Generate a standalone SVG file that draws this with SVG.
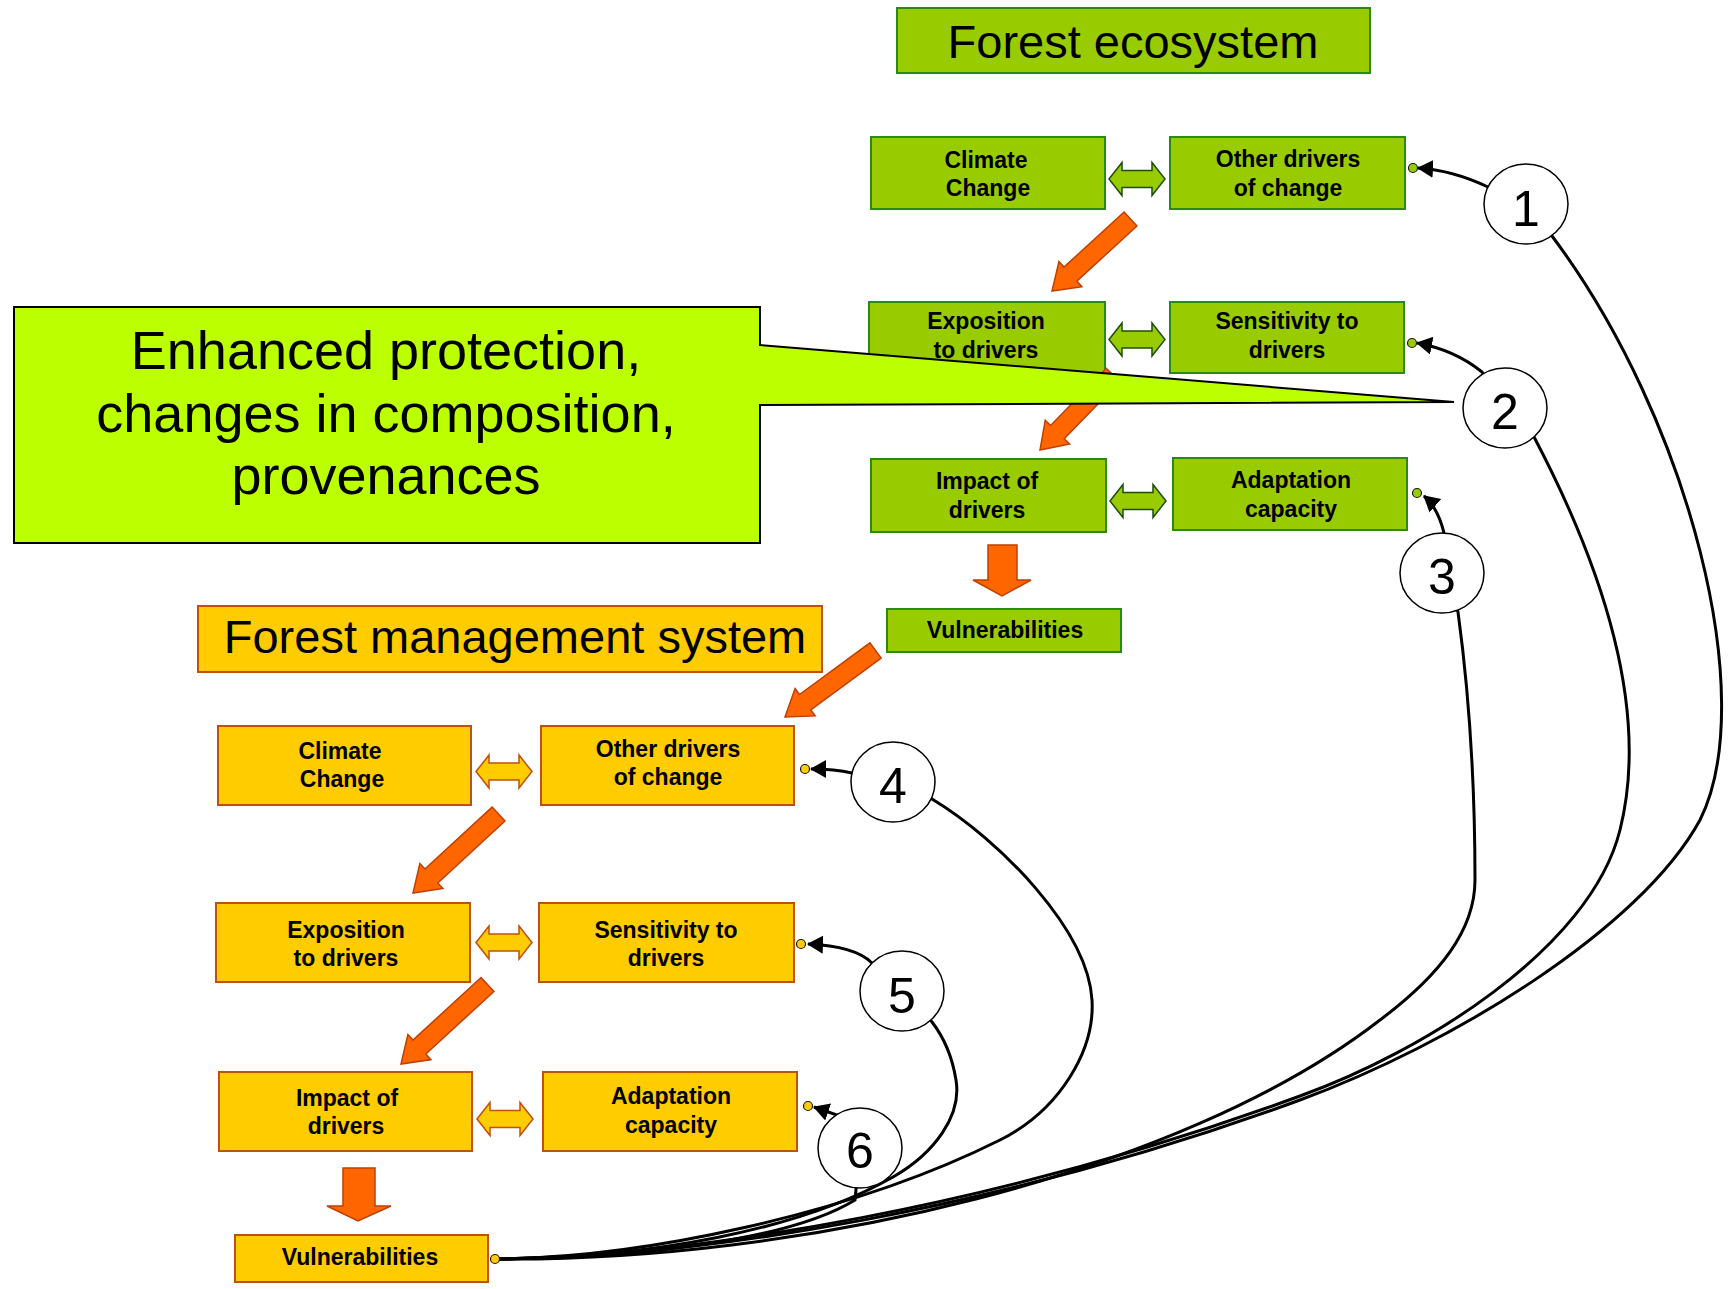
<svg xmlns="http://www.w3.org/2000/svg" xmlns:xlink="http://www.w3.org/1999/xlink" width="1733" height="1289" viewBox="0 0 1733 1289">
<style>
.gbox{fill:#99CC00;stroke:#2A8A14;stroke-width:2}
.obox{fill:#FFCC00;stroke:#C0500A;stroke-width:2}
.lbl{font-family:"Liberation Sans",Arial,sans-serif;font-weight:bold;font-size:23px;text-anchor:middle;fill:#000}
.title{font-family:"Liberation Sans",Arial,sans-serif;font-size:47px;text-anchor:middle;fill:#000}
.call{font-family:"Liberation Sans",Arial,sans-serif;font-size:54px;text-anchor:middle;fill:#000}
.num{font-family:"Liberation Sans",Arial,sans-serif;font-size:50px;text-anchor:middle;fill:#000}
.flow{fill:#FF6600;stroke:#C04000;stroke-width:1.5}
.gdbl{fill:#99CC00;stroke:#1E4D0F;stroke-width:1.5}
.odbl{fill:#FFCC00;stroke:#C0500A;stroke-width:1.5}
.conn{fill:none;stroke:#000;stroke-width:3}
.gdot{fill:#99CC00;stroke:#1a1a1a;stroke-width:1.2}
.odot{fill:#FFCC00;stroke:#1a1a1a;stroke-width:1.2}
.lab{fill:#fff;stroke:#000;stroke-width:1.5}
</style>
<defs>
<path id="dbl" d="M0,0 L13,-16.5 L13,-8.5 L43,-8.5 L43,-16.5 L56,0 L43,16.5 L43,8.5 L13,8.5 L13,16.5 Z"/>
<marker id="ah" markerUnits="userSpaceOnUse" markerWidth="18" markerHeight="20" viewBox="0 0 18 20" refX="15" refY="9" orient="auto">
<path d="M0,0 L16,9 L0,18 Z" fill="#000"/>
</marker>
</defs>
<rect width="1733" height="1289" fill="#fff"/>

<g id="title-ecosystem">
<rect class="gbox" x="897" y="8" width="473" height="65"/>
<text class="title" x="1133" y="58">Forest ecosystem</text>
</g>

<g id="g-climate"><rect class="gbox" x="871" y="137" width="234" height="72"/>
<text class="lbl" x="986" y="168">Climate</text><text class="lbl" x="988" y="196">Change</text></g>
<g id="g-other"><rect class="gbox" x="1170" y="137" width="235" height="72"/>
<text class="lbl" x="1288" y="167">Other drivers</text><text class="lbl" x="1288" y="196">of change</text></g>
<g id="g-exposition"><rect class="gbox" x="869" y="302" width="236" height="71"/>
<text class="lbl" x="986" y="329">Exposition</text><text class="lbl" x="986" y="358">to drivers</text></g>
<g id="g-sensitivity"><rect class="gbox" x="1170" y="302" width="234" height="71"/>
<text class="lbl" x="1287" y="329">Sensitivity to</text><text class="lbl" x="1287" y="358">drivers</text></g>
<g id="g-impact"><rect class="gbox" x="871" y="459" width="235" height="73"/>
<text class="lbl" x="987" y="489">Impact of</text><text class="lbl" x="987" y="518">drivers</text></g>
<g id="g-adaptation"><rect class="gbox" x="1173" y="458" width="234" height="72"/>
<text class="lbl" x="1291" y="488">Adaptation</text><text class="lbl" x="1291" y="517">capacity</text></g>
<g id="g-vulnerabilities"><rect class="gbox" x="887" y="609" width="234" height="43"/>
<text class="lbl" x="1005" y="638">Vulnerabilities</text></g>

<g id="title-management">
<rect class="obox" x="198" y="606" width="624" height="66"/>
<text class="title" x="515" y="653">Forest management system</text>
</g>

<g id="o-climate"><rect class="obox" x="218" y="726" width="253" height="79"/>
<text class="lbl" x="340" y="759">Climate</text><text class="lbl" x="342" y="787">Change</text></g>
<g id="o-other"><rect class="obox" x="541" y="726" width="253" height="79"/>
<text class="lbl" x="668" y="757">Other drivers</text><text class="lbl" x="668" y="785">of change</text></g>
<g id="o-exposition"><rect class="obox" x="216" y="903" width="254" height="79"/>
<text class="lbl" x="346" y="938">Exposition</text><text class="lbl" x="346" y="966">to drivers</text></g>
<g id="o-sensitivity"><rect class="obox" x="539" y="903" width="255" height="79"/>
<text class="lbl" x="666" y="938">Sensitivity to</text><text class="lbl" x="666" y="966">drivers</text></g>
<g id="o-impact"><rect class="obox" x="219" y="1072" width="253" height="79"/>
<text class="lbl" x="347" y="1106">Impact of</text><text class="lbl" x="346" y="1134">drivers</text></g>
<g id="o-adaptation"><rect class="obox" x="543" y="1072" width="254" height="79"/>
<text class="lbl" x="671" y="1104">Adaptation</text><text class="lbl" x="671" y="1133">capacity</text></g>
<g id="o-vulnerabilities"><rect class="obox" x="235" y="1235" width="253" height="47"/>
<text class="lbl" x="360" y="1265">Vulnerabilities</text></g>

<g id="flow-arrows">
<use href="#dbl" xlink:href="#dbl" class="gdbl" transform="translate(1109,179)"/>
<use href="#dbl" xlink:href="#dbl" class="gdbl" transform="translate(1109,339.5)"/>
<use href="#dbl" xlink:href="#dbl" class="gdbl" transform="translate(1110,501)"/>
<use href="#dbl" xlink:href="#dbl" class="odbl" transform="translate(476,771.5)"/>
<use href="#dbl" xlink:href="#dbl" class="odbl" transform="translate(476,942.5)"/>
<use href="#dbl" xlink:href="#dbl" class="odbl" transform="translate(477,1119)"/>
<path class="flow" transform="translate(1052,291) rotate(137.5)" d="M-106.5,-9.5 L-25,-9.5 L-25,-17 L0,0 L-25,17 L-25,9.5 L-106.5,9.5 Z"/>
<path class="flow" transform="translate(1040,450) rotate(134.2)" d="M-104.7,-9.5 L-25,-9.5 L-25,-17 L0,0 L-25,17 L-25,9.5 L-104.7,9.5 Z"/>
<path class="flow" d="M988,545 H1017 V580 H1031 L1002,596 L973,580 H988 Z"/>
<path class="flow" transform="translate(785,717) rotate(143.7)" d="M-112.3,-9.5 L-25,-9.5 L-25,-17 L0,0 L-25,17 L-25,9.5 L-112.3,9.5 Z"/>
<path class="flow" transform="translate(413,893) rotate(137.3)" d="M-116.4,-9.5 L-25,-9.5 L-25,-17 L0,0 L-25,17 L-25,9.5 L-116.4,9.5 Z"/>
<path class="flow" transform="translate(401,1064) rotate(137.4)" d="M-117.5,-9.5 L-25,-9.5 L-25,-17 L0,0 L-25,17 L-25,9.5 L-117.5,9.5 Z"/>
<path class="flow" d="M343,1168 H375 V1206 H391 L358,1221 L327,1206 H343 Z"/>
</g>

<g id="callout">
<path d="M14,307 L760,307 L760,345 L1454,402 L760,405 L760,543 L14,543 Z" fill="#BBFF00" stroke="#000" stroke-width="2" stroke-linejoin="miter"/>
<text class="call" x="386" y="369">Enhanced protection,</text>
<text class="call" x="386" y="432">changes in composition,</text>
<text class="call" x="386" y="494">provenances</text>
</g>

<g id="connectors">
<path class="conn" marker-end="url(#ah)" d="M495,1259 C700,1258 1000,1210 1300,1100 C1450,1045 1640,930 1700,820 C1760,700 1690,420 1552,236 L1526,204 L1488,187 Q1452,170 1418,168"/>
<path class="conn" marker-end="url(#ah)" d="M495,1259 C700,1256 1000,1206 1300,1096 C1420,1053 1590,950 1620,830 C1645,730 1620,600 1533,435 L1505,408 L1482,372 Q1455,350 1417,343"/>
<path class="conn" marker-end="url(#ah)" d="M495,1259 C800,1262 1180,1175 1380,1020 C1440,975 1475,930 1475,880 C1475,800 1470,700 1458,612 L1442,573 L1444,533 Q1438,508 1424,496"/>
<path class="conn" marker-end="url(#ah)" d="M495,1259 C640,1258 850,1215 1000,1140 C1060,1110 1095,1050 1092,1000 C1088,930 1000,840 932,799 L893,782 L852,773 Q835,769 811,769"/>
<path class="conn" marker-end="url(#ah)" d="M495,1259 C650,1258 800,1230 893,1177 C935,1153 962,1115 956,1080 C952,1055 942,1035 932,1022 L902,991 L872,963 Q855,946 808,944"/>
<path class="conn" marker-end="url(#ah)" d="M495,1259 C640,1258 790,1240 855,1200 L860,1148 L837,1115 L814,1107"/>
</g>

<g id="ports">
<circle class="gdot" cx="1413" cy="168" r="4.5"/>
<circle class="gdot" cx="1412" cy="343" r="4.5"/>
<circle class="gdot" cx="1417" cy="493" r="4.5"/>
<circle class="odot" cx="805" cy="769" r="4.5"/>
<circle class="odot" cx="801" cy="944" r="4.5"/>
<circle class="odot" cx="808" cy="1106" r="4.5"/>
<circle class="odot" cx="495" cy="1259" r="4.5"/>
</g>

<g id="label-1"><ellipse class="lab" cx="1526" cy="204" rx="42" ry="40"/><text class="num" x="1526" y="226">1</text></g>
<g id="label-2"><ellipse class="lab" cx="1505" cy="408" rx="42" ry="40"/><text class="num" x="1505" y="429">2</text></g>
<g id="label-3"><ellipse class="lab" cx="1442" cy="573" rx="42" ry="40"/><text class="num" x="1442" y="594">3</text></g>
<g id="label-4"><ellipse class="lab" cx="893" cy="782" rx="42" ry="40"/><text class="num" x="893" y="803">4</text></g>
<g id="label-5"><ellipse class="lab" cx="902" cy="991" rx="42" ry="40"/><text class="num" x="902" y="1013">5</text></g>
<g id="label-6"><ellipse class="lab" cx="860" cy="1148" rx="42" ry="40"/><text class="num" x="860" y="1168">6</text></g>
</svg>
